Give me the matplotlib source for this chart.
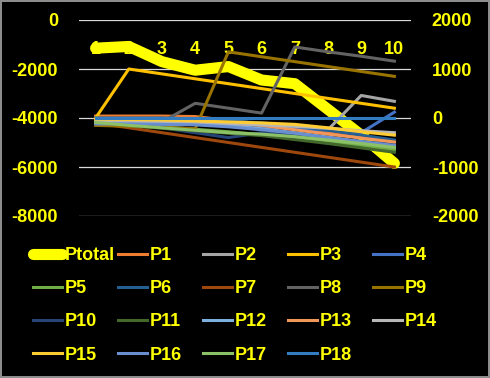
import matplotlib
matplotlib.use("Agg")
import matplotlib.pyplot as plt

plt.rcParams['font.family'] = ['Liberation Sans', 'DejaVu Sans']
plt.rcParams['axes.unicode_minus'] = False

categories = [1, 2, 3, 4, 5, 6, 7, 8, 9, 10]
cat_labels = ["1", "2", "3", "4", "5", "6", "7", "8", "9", "10"]

Ptotal = [-1150, -1080, -1700, -2050, -1900, -2450, -2600, -3650, -4700, -5850]
P1 = [40, 40, 40, 30, -50, -120, -200, -300, -400, -490]
P2 = [-60, -60, -80, -100, -130, -160, -200, -240, 460, 340]
P3 = [0, 1000, 900, 800, 700, 600, 500, 400, 300, 200]
P4 = [-40, -60, -90, -120, -150, -180, -210, -250, -300, 120]
P5 = [-80, -130, -180, -230, -280, -340, -400, -480, -560, -650]
P6 = [0, 0, 0, -20, -60, -100, -160, -250, -350, -450]
P7 = [-100, -200, -300, -400, -500, -600, -700, -800, -900, -1000]
P8 = [-100, -100, -80, 300, 200, 100, 1450, 1350, 1260, 1160]
P9 = [-150, -170, -190, -220, 1350, 1250, 1150, 1050, 950, 850]
P10 = [-50, -120, -200, -300, -400, -300, -350, -420, -480, -540]
P11 = [-80, -150, -210, -260, -310, -360, -440, -520, -610, -700]
P12 = [-110, -110, -110, -120, -160, -220, -300, -390, -490, -590]
P13 = [-30, -40, -50, -60, -100, -150, -240, -330, -410, -490]
P14 = [-60, -70, -80, -90, -110, -140, -170, -210, -260, -300]
P15 = [-20, -30, -40, -60, -80, -100, -130, -200, -280, -350]
P16 = [-120, -120, -130, -140, -180, -240, -310, -400, -480, -560]
P17 = [-90, -150, -200, -250, -300, -330, -380, -450, -520, -600]
P18 = [0, 0, 0, 0, 0, 0, 0, 0, 0, 0]

series_names = ["P%d" % i for i in range(1, 19)]
series_values = [P1, P2, P3, P4, P5, P6, P7, P8, P9, P10, P11, P12, P13, P14, P15, P16, P17, P18]
series_colors = ["#ED7D31", "#A5A5A5", "#FFC000", "#4472C4", "#70AD47", "#255E91",
                 "#9E480E", "#636363", "#997300", "#264478", "#43682B", "#7CAFDD",
                 "#F1975A", "#B7B7B7", "#FFCD33", "#698ED0", "#8CC168", "#327DC2"]

left_ticks = [0, -2000, -4000, -6000, -8000]
right_ticks = [2000, 1000, 0, -1000, -2000]

YEL = "#FFFF00"
FS = 13

fig = plt.figure(figsize=(4.9, 3.78), dpi=100)
fig.patch.set_facecolor("black")
fig.patch.set_edgecolor("#8C8C8C")
fig.patch.set_linewidth(1.5)

ax = fig.add_axes([79/490, 1-216/378, (411-79)/490, (216-20)/378])
ax.set_facecolor("black")
ax.set_xlim(0.5, 10.5)
ax.set_ylim(-8000, 0)
ax.set_yticks(left_ticks)
ax.set_yticklabels([str(v) for v in left_ticks])
ax.yaxis.grid(True, color="#D9D9D9", lw=0.9)
for s in ax.spines.values():
    s.set_visible(False)
ax.tick_params(axis='y', length=0, pad=15, labelcolor=YEL, labelsize=FS)
ax.set_xticks(categories)
ax.set_xticklabels(cat_labels)
ax.tick_params(axis='x', top=True, labeltop=True, bottom=False, labelbottom=False,
               length=0, pad=-27, labelcolor=YEL, labelsize=FS)
for t in ax.get_xticklabels() + ax.get_yticklabels():
    t.set_fontweight("bold")

ln_total, = ax.plot(categories, Ptotal, color=YEL, lw=8, solid_capstyle='round',
                    solid_joinstyle='round', zorder=3)

ax2 = ax.twinx()
ax2.set_ylim(-2000, 2000)
ax2.set_yticks(right_ticks)
ax2.set_yticklabels([str(v) for v in right_ticks])
for s in ax2.spines.values():
    s.set_visible(False)
ax2.tick_params(axis='y', length=0, pad=15, labelcolor=YEL, labelsize=FS)
for t in ax2.get_yticklabels():
    t.set_fontweight("bold")

handles = [ln_total]
for name, vals, col in zip(series_names, series_values, series_colors):
    h, = ax2.plot(categories, vals, color=col, lw=2.2)
    handles.append(h)

labels = ["Ptotal"] + series_names
ncol = 5
for c in range(ncol):
    hs, ls = [], []
    for r in range(4):
        i = r*ncol + c
        if i < len(handles):
            hs.append(handles[i])
            ls.append(labels[i])
    leg = fig.legend(hs, ls, loc='upper left',
                     bbox_to_anchor=((33 + 85*c)/490, 1 - 247/378),
                     bbox_transform=fig.transFigure, frameon=False,
                     handlelength=1.6, handletextpad=0.15, borderpad=0,
                     borderaxespad=0, labelspacing=0.9,
                     prop={'size': FS, 'weight': 'bold'})
    for t in leg.get_texts():
        t.set_color(YEL)

fig.savefig("out.png", dpi=100, facecolor=fig.get_facecolor(), edgecolor=fig.get_edgecolor())
